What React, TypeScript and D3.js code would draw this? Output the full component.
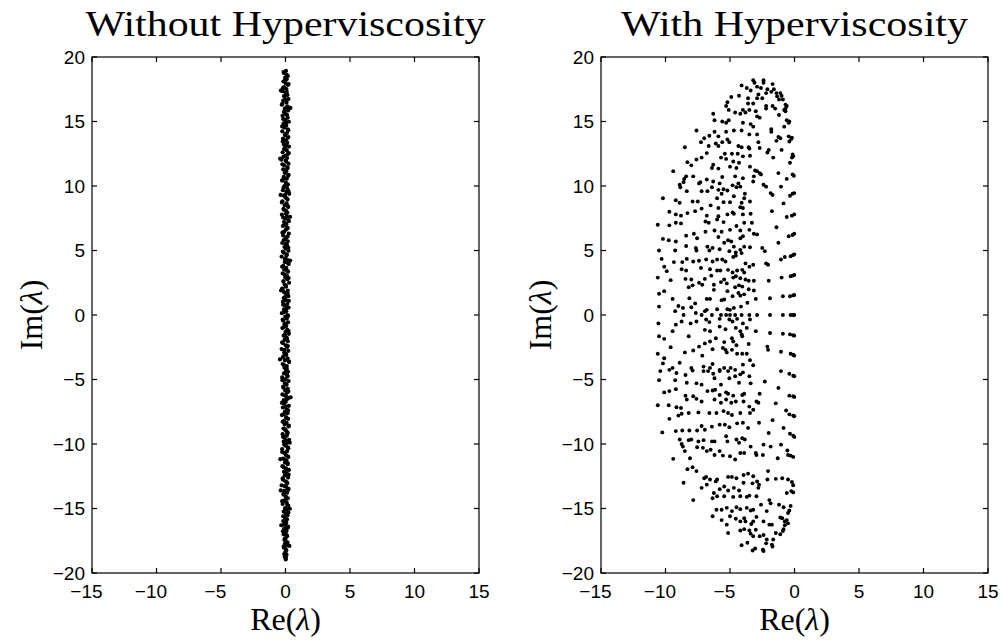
import React from "react";
import * as d3 from "d3";

const xTicks = [-15, -10, -5, 0, 5, 10, 15];
const yTicks = [-20, -15, -10, -5, 0, 5, 10, 15, 20];
const panelTitles = ["Without Hyperviscosity", "With Hyperviscosity"];

// Eigenvalues without hyperviscosity: [Re, Im]
const withoutHV: [number, number][] = [
  [0.04,18.92],[-0.1,18.75],[0.12,18.6],[-0.03,18.41],[0.09,18.28],[-0.16,18.1],[0.02,17.97],[0.19,17.83],[-0.11,17.66],[0.07,17.52],[-0.21,17.35],[0.01,17.22],[0.15,17.05],[-0.06,16.91],[0.23,16.74],[-0.18,16.62],[0.08,16.47],[-0.29,16.3],[0.13,16.18],[-0.05,16.02],[0.21,15.86],[-0.12,15.73],[0.03,15.57],[-0.23,15.44],[0.17,15.29],[-0.01,15.12],[0.26,14.98],[-0.15,14.85],[0.06,14.69],[-0.09,14.53],[0.18,14.4],[-0.25,14.24],[0.11,14.11],[-0.04,13.95],[0.22,13.8],[-0.19,13.68],[0.02,13.51],[0.14,13.37],[-0.13,13.22],[0.27,13.06],[-0.07,12.93],[0.09,12.78],[-0.22,12.61],[0.18,12.49],[-0.02,12.33],[0.12,12.18],[-0.31,12.04],[0.05,11.9],[0.23,11.73],[-0.1,11.6],[0.16,11.44],[-0.18,11.3],[0.06,11.15],[-0.05,11.01],[0.24,10.86],[-0.14,10.7],[0.1,10.57],[-0.27,10.42],[0.02,10.27],[0.19,10.12],[-0.08,9.99],[0.13,9.83],[-0.2,9.68],[0.07,9.55],[0.29,9.39],[-0.12,9.25],[0.0,9.1],[0.16,8.95],[-0.24,8.81],[0.08,8.66],[-0.06,8.5],[0.21,8.37],[-0.16,8.22],[0.04,8.07],[0.14,7.93],[-0.28,7.78],[0.1,7.62],[-0.03,7.49],[0.22,7.33],[-0.12,7.2],[0.06,7.04],[-0.2,6.9],[0.17,6.75],[0.02,6.6],[-0.1,6.46],[0.26,6.31],[-0.18,6.17],[0.08,6.02],[-0.02,5.88],[0.18,5.71],[-0.25,5.58],[0.12,5.43],[-0.08,5.27],[0.04,5.14],[0.23,4.98],[-0.14,4.84],[0.1,4.7],[-0.3,4.53],[0.0,4.4],[0.16,4.25],[-0.06,4.1],[0.25,3.96],[-0.18,3.81],[0.06,3.66],[-0.1,3.52],[0.2,3.37],[-0.22,3.22],[0.1,3.08],[-0.02,2.93],[0.14,2.78],[-0.16,2.63],[0.28,2.5],[-0.06,2.34],[0.04,2.19],[-0.26,2.05],[0.18,1.9],[-0.1,1.76],[0.08,1.6],[0.22,1.46],[-0.14,1.31],[0.02,1.17],[-0.2,1.02],[0.14,0.87],[-0.04,0.73],[0.24,0.58],[-0.12,0.43],[0.06,0.29],[-0.28,0.14],[0.16,0.0],
  [-0.02,-0.13],[0.1,-0.28],[-0.18,-0.44],[0.2,-0.57],[-0.08,-0.72],[0.04,-0.88],[-0.24,-1.01],[0.14,-1.16],[0.0,-1.3],[0.26,-1.46],[-0.14,-1.6],[0.08,-1.75],[-0.06,-1.91],[0.18,-2.04],[-0.2,-2.19],[0.02,-2.35],[0.12,-2.48],[-0.3,-2.64],[0.22,-2.78],[-0.1,-2.92],[0.06,-3.08],[-0.16,-3.21],[0.16,-3.36],[-0.04,-3.52],[0.28,-3.65],[-0.22,-3.8],[0.1,-3.96],[-0.08,-4.09],[0.04,-4.24],[0.2,-4.4],[-0.12,-4.53],[0.14,-4.68],[-0.26,-4.84],[0.0,-4.97],[0.24,-5.12],[-0.06,-5.28],[0.08,-5.41],[-0.18,-5.56],[0.18,-5.72],[-0.02,-5.85],[0.12,-6.0],[-0.24,-6.16],[0.06,-6.29],[0.22,-6.44],[-0.14,-6.6],[0.02,-6.73],[-0.1,-6.88],[0.26,-7.04],[-0.2,-7.17],[0.1,-7.32],[-0.04,-7.48],[0.16,-7.61],[-0.28,-7.76],[0.04,-7.92],[0.2,-8.05],[-0.12,-8.2],[0.08,-8.36],[-0.06,-8.49],[0.24,-8.64],[-0.16,-8.8],[0.0,-8.93],[0.14,-9.08],[-0.22,-9.24],[0.1,-9.37],[-0.08,-9.52],[0.28,-9.68],[-0.14,-9.81],[0.06,-9.96],[-0.02,-10.12],[0.18,-10.25],[-0.26,-10.4],[0.12,-10.56],[-0.1,-10.69],[0.02,-10.84],[0.22,-11.0],[-0.18,-11.13],[0.08,-11.28],[-0.04,-11.44],[0.16,-11.57],[-0.24,-11.72],[0.04,-11.88],[0.26,-12.01],[-0.12,-12.16],[0.1,-12.32],[-0.06,-12.45],[0.2,-12.6],[-0.2,-12.76],[0.0,-12.89],[0.14,-13.04],[-0.3,-13.2],[0.06,-13.33],[0.24,-13.48],[-0.1,-13.64],[0.12,-13.77],[-0.16,-13.92],[0.02,-14.08],[0.18,-14.21],[-0.08,-14.36],[0.08,-14.52],[-0.22,-14.65],[0.22,-14.8],[-0.02,-14.96],[0.1,-15.09],[-0.14,-15.24],[0.04,-15.4],[0.16,-15.53],[-0.06,-15.68],[0.12,-15.84],[-0.18,-15.97],[0.06,-16.12],[-0.04,-16.28],[0.2,-16.41],[-0.1,-16.56],[0.08,-16.72],[0.0,-16.85],[-0.14,-17.0],[0.12,-17.16],[0.02,-17.29],[-0.08,-17.44],[0.1,-17.6],[-0.04,-17.73],[0.06,-17.88],[-0.12,-18.04],[0.04,-18.2],[-0.02,-18.4],[0.08,-18.58],[-0.06,-18.75],[0.02,-18.95],
  [0.38,16.05],[-0.41,12.12],[-0.38,9.31],[0.36,4.22],[-0.43,-3.44],[0.4,-6.38],[-0.4,-11.18],[0.34,-15.02],[-0.36,17.4],[0.33,-9.9],[-0.35,1.9],[0.35,7.6],[-0.37,-13.6],[0.3,-17.9],[-0.33,-16.3],
  [-0.15,18.83],[0.18,18.52],[-0.05,18.19],[0.24,17.9],[-0.2,17.58],[0.1,17.29],[-0.12,16.97],[0.02,16.68],[-0.24,16.38],[0.2,16.1],[-0.08,15.8],[0.12,15.5],[-0.18,15.2],[0.06,14.92],[-0.26,14.62],[0.22,14.33],[-0.02,14.02],[0.16,13.73],[-0.22,13.44],[0.08,13.14],[-0.1,12.85],[0.26,12.55],[-0.16,12.26],[0.02,11.97],[-0.24,11.68],[0.14,11.37],[-0.06,11.08],[0.2,10.79],[-0.2,10.49],[0.06,10.2],[-0.14,9.9],[0.24,9.61],[-0.02,9.32],[0.12,9.03],[-0.28,8.73],[0.18,8.44],[-0.1,8.14],[0.04,7.85],[-0.18,7.56],[0.26,7.27],[-0.06,6.97],[0.1,6.68],[-0.24,6.38],[0.16,6.09],[-0.14,5.8],[0.02,5.5],[0.22,5.21],[-0.2,4.92],[0.08,4.62],[-0.04,4.33],[0.18,4.03],[-0.26,3.74],[0.12,3.45],[-0.08,3.16],[0.24,2.86],[-0.16,2.57],[0.04,2.27],[-0.22,1.98],[0.16,1.68],[-0.04,1.39],[0.26,1.1],[-0.18,0.8],[0.08,0.51],[-0.1,0.22],[0.2,-0.07],[-0.22,-0.36],[0.04,-0.66],[-0.14,-0.95],[0.24,-1.24],[-0.04,-1.54],[0.12,-1.83],[-0.26,-2.12],[0.18,-2.41],[-0.08,-2.71],[0.02,-3.0],[-0.2,-3.29],[0.26,-3.59],[-0.12,-3.88],[0.1,-4.17],[-0.02,-4.47],[0.16,-4.76],[-0.24,-5.05],[0.06,-5.35],[-0.16,-5.64],[0.22,-5.93],[-0.06,-6.23],[0.12,-6.52],[-0.28,-6.81],[0.02,-7.1],[0.2,-7.4],[-0.14,-7.69],[0.08,-7.98],[-0.22,-8.28],[0.26,-8.57],[-0.02,-8.86],[0.16,-9.16],[-0.18,-9.45],[0.04,-9.74],[-0.1,-10.03],[0.22,-10.33],[-0.26,-10.62],[0.1,-10.91],[-0.06,-11.21],[0.18,-11.5],[-0.16,-11.79],[0.02,-12.09],[0.24,-12.38],[-0.22,-12.67],[0.08,-12.96],[-0.08,-13.26],[0.2,-13.55],[-0.14,-13.84],[0.06,-14.14],[-0.26,-14.43],[0.14,-14.72],[-0.04,-15.02],[0.22,-15.31],[-0.18,-15.6],[0.04,-15.9],[-0.1,-16.19],[0.18,-16.48],[-0.2,-16.77],[0.1,-17.07],[-0.06,-17.36],[0.16,-17.65],[-0.14,-17.94],[0.06,-18.24],[-0.1,-18.53],[0.04,-18.82]
];

// Eigenvalues with hyperviscosity: [Re, Im]
const withHV: [number, number][] = [
  [-3.2,18.2],[-2.4,18.2],[-3.1,18.0],[-2.4,18.0],[-4.1,17.8],[-1.7,17.9],[-3.7,17.6],[-2.9,17.7],[-2.6,17.6],[-1.6,17.5],[-2.1,17.5],[-3.4,17.4],[-1.8,17.3],[-1.4,17.2],[-1.1,17.2],[-2.2,17.2],[-2.8,17.1],[-1.35,16.95],[-1.0,17.0],[-4.9,16.9],[-4.3,17.0],[-3.6,16.8],[-2.9,16.8],[-2.5,16.8],[-1.2,16.7],[-0.9,16.7],[-5.2,16.5],[-3.6,16.4],[-3.2,16.4],[-0.7,16.3],[-0.6,16.2],[-5.3,16.2],[-5.1,15.9],[-2.2,16.2],[-1.7,16.2],[-2.2,16.0],[-1.5,16.0],[-0.8,15.9],[-0.7,16.0],
  [-4.0,15.9],[-3.5,15.9],[-0.7,15.8],[-6.3,15.6],[-4.6,15.7],[-4.2,15.6],[-3.8,15.7],[-3.0,15.8],[-1.2,15.5],[-6.2,15.1],[-5.6,15.0],[-5.3,14.9],[-5.1,15.1],[-4.0,14.9],[-3.4,14.8],[-2.9,15.4],[-2.7,15.3],[-0.6,15.1],[-0.4,15.0],[-0.45,14.9],[-3.2,14.6],[-1.8,14.4],[-1.8,14.2],[-0.8,14.6],[-7.6,14.3],[-6.2,14.2],[-5.3,14.2],[-4.7,14.3],[-4.1,14.3],[-3.5,14.0],[-2.9,14.0],[-0.45,13.85],[-0.25,13.65],[-0.2,13.75],
  [-6.6,13.9],[-7.0,13.7],[-5.9,13.85],[-5.2,13.6],[-1.25,13.8],[-1.1,13.7],[-7.25,13.4],[-6.1,13.3],[-5.6,13.4],[-5.05,13.4],[-4.35,13.1],[-2.8,13.4],[-1.4,13.5],[-0.4,13.45],[-6.65,13.1],[-5.9,13.1],[-4.1,13.0],[-3.55,13.0],[-3.5,12.9],[-2.7,12.95],[-1.0,12.8],[-8.5,13.0],[-6.8,12.55],[-5.4,12.5],[-4.85,12.5],[-4.4,12.5],[-4.0,12.3],[-3.45,12.35],[-2.0,12.8],[-2.1,12.6],[-0.15,12.45],[-0.1,12.3],[-0.2,12.2],
  [-8.3,11.85],[-7.6,12.05],[-7.2,12.2],[-5.7,12.2],[-5.3,12.1],[-4.75,11.9],[-4.3,11.8],[-1.65,12.2],[-0.35,11.8],[-8.0,11.6],[-6.3,11.65],[-5.0,11.5],[-4.5,11.4],[-3.45,11.5],[-3.05,11.2],[-2.9,11.15],[-9.4,11.15],[-8.4,10.75],[-7.85,10.75],[-6.4,11.4],[-5.9,11.35],[-2.7,11.0],[-2.6,10.9],[-1.25,11.0],[-0.15,10.9],[-0.05,10.8],[-0.6,10.55],[-8.55,10.55],[-7.3,10.3],[-6.8,10.5],[-6.3,10.35],[-5.6,10.7],[-4.6,10.75],[-4.0,10.6],[-3.15,10.75],
  [-8.6,10.3],[-8.9,10.1],[-7.4,10.2],[-6.4,9.9],[-5.8,10.2],[-4.35,10.2],[-4.2,9.95],[-3.2,10.35],[-2.4,10.1],[-2.2,9.95],[-1.05,9.95],[-8.85,9.9],[-8.35,9.6],[-7.2,9.6],[-6.75,9.6],[-5.9,9.7],[-5.5,9.75],[-4.8,10.05],[-4.5,9.9],[-3.85,9.4],[-5.2,9.65],[-1.85,9.45],[-1.7,9.3],[-0.35,9.25],[-0.15,9.4],[-0.02,9.45],
  [-10.2,9.05],[-9.2,8.9],[-8.9,8.7],[-7.9,8.8],[-7.5,8.8],[-6.5,8.5],[-6.0,9.05],[-5.65,9.4],[-5.5,8.75],[-5.0,8.75],[-4.7,9.2],[-4.1,8.7],[-3.9,9.05],[-3.45,8.8],[-0.85,8.65],[-9.7,8.0],[-7.7,8.05],[-7.2,8.25],[-5.9,8.3],[-4.8,7.95],[-4.2,8.35],[-4.0,8.3],[-1.75,8.05],
  [-9.2,7.8],[-8.8,7.7],[-8.3,7.9],[-6.8,7.7],[-5.9,7.65],[-5.2,7.8],[-4.7,7.85],[-4.0,7.8],[-3.4,7.85],[-0.6,7.6],[-0.2,7.7],[-0.02,7.8],
  [-10.6,7.0],[-9.7,6.95],[-9.2,7.15],[-8.8,7.1],[-6.9,7.25],[-6.65,7.15],[-6.0,7.4],[-5.5,7.2],[-4.5,6.9],[-3.9,7.15],[-3.3,7.15],[-1.4,6.8],
  [-8.4,6.15],[-7.8,6.3],[-6.9,6.45],[-6.2,6.55],[-5.65,6.45],[-5.0,6.6],[-4.2,6.55],[-3.5,6.6],[-3.15,6.3],[-2.9,6.25],[-0.45,6.1],[-0.15,6.2],[-0.02,6.3],[-10.2,5.9],[-9.75,5.8],[-9.2,5.7],[-7.55,5.95],[-5.9,6.05],[-5.15,5.8],[-4.9,5.7],[-4.2,5.95],[-4.0,6.1],[-2.5,5.2],[-2.3,4.95],[-1.25,5.6],
  [-8.4,5.35],[-7.65,5.2],[-6.75,5.3],[-6.35,5.2],[-5.8,5.1],[-5.45,5.6],[-4.7,5.3],[-4.2,5.05],[-3.9,5.3],[-3.45,5.25],[-10.5,5.0],[-9.25,5.0],[-7.6,5.0],[-6.6,5.0],[-5.05,4.95],[-4.55,4.85],[-4.1,4.8],
  [-10.3,4.35],[-9.35,4.1],[-8.7,4.1],[-8.35,4.35],[-7.85,4.15],[-7.4,4.2],[-6.85,4.3],[-6.35,4.15],[-6.0,4.3],[-5.6,4.3],[-5.35,4.15],[-4.75,4.5],[-4.55,4.6],[-3.8,4.0],[-3.2,3.9],[-2.05,3.9],[-1.05,4.3],[-0.75,4.5],[-0.3,4.55],[-0.1,4.65],[-0.02,4.7],
  [-10.1,3.75],[-9.9,3.4],[-8.75,3.55],[-8.4,3.45],[-7.25,3.65],[-6.55,3.55],[-6.0,3.45],[-5.75,3.45],[-5.15,3.5],[-4.8,3.3],[-4.45,3.45],[-4.05,3.5],[-3.9,3.3],[-3.5,3.75],[-2.2,4.0],[-10.6,2.9],[-9.6,2.7],[-8.45,2.8],[-8.0,2.75],[-6.95,2.8],[-6.45,3.05],[-5.45,2.75],[-4.75,2.9],[-4.55,3.0],[-4.2,2.85],[-3.8,2.75],[-3.55,2.65],[-3.15,2.65],[-2.0,2.65],[-1.0,2.9],[-0.3,3.0],[-0.15,3.05],[-0.02,3.1],
  [-8.2,2.15],[-7.9,2.3],[-7.4,2.5],[-7.15,2.35],[-6.25,2.35],[-5.7,2.55],[-5.25,2.45],[-4.6,2.15],[-4.3,2.3],[-4.05,2.2],[-3.55,2.0],[-3.15,1.9],[-10.5,1.65],[-10.1,1.85],[-6.25,1.95],[-5.2,1.85],[-4.35,1.7],
  [-9.45,1.25],[-9.0,0.7],[-8.15,1.3],[-7.7,0.9],[-6.8,1.25],[-6.55,1.25],[-5.65,1.15],[-5.45,1.2],[-4.8,1.45],[-4.2,1.5],[-3.9,1.6],[-3.0,1.25],[-1.9,1.3],[-0.9,1.45],[-0.35,1.45],[-0.1,1.52],[-0.02,1.55],[-8.65,0.55],
  [-10.5,0.65],[-8.0,0.6],[-6.8,0.4],[-6.0,0.45],[-5.2,0.45],[-4.7,0.55],[-4.15,0.65],[-3.65,0.95],
  [-8.6,0.0],[-7.2,0.0],[-6.4,0.0],[-5.7,0.0],[-5.3,0.0],[-5.0,0.0],[-4.6,0.0],[-4.1,0.0],[-3.5,0.0],[-2.9,0.0],[-1.9,0.0],[-0.9,0.0],[-0.3,0.0],[-0.1,0.0],[-0.02,0.0],[-9.25,0.3],[-7.65,0.15],[-6.95,0.3],[-5.0,0.4],
  [-9.2,-0.75],[-8.75,-0.5],[-8.05,-0.65],[-7.6,-0.5],[-6.85,-0.35],[-6.6,-0.55],[-5.8,-0.3],[-5.05,-0.35],[-4.8,-0.5],[-4.45,-0.3],[-4.0,-0.65],[-3.45,-0.35],[-10.55,-0.65],
  [-9.45,-1.25],[-6.95,-1.15],[-6.55,-1.25],[-5.8,-0.9],[-5.35,-1.1],[-4.55,-1.0],[-4.2,-1.25],[-3.7,-1.0],[-3.0,-1.25],[-1.9,-1.4],[-0.9,-1.45],[-0.35,-1.5],[-0.1,-1.57],[-0.02,-1.6],
  [-10.5,-1.65],[-10.1,-1.85],[-8.2,-1.65],[-7.4,-2.45],[-6.95,-2.2],[-6.55,-2.05],[-6.1,-1.8],[-5.45,-2.1],[-4.85,-1.8],[-4.75,-2.05],[-4.5,-2.35],[-4.1,-1.5],[-4.05,-1.65],[-3.55,-2.25],[-2.1,-2.45],[-2.05,-2.7],
  [-10.6,-3.0],[-10.1,-3.35],[-9.6,-2.5],[-8.5,-2.9],[-7.85,-2.75],[-7.15,-3.15],[-6.35,-2.65],[-5.55,-2.55],[-5.35,-2.7],[-5.25,-2.9],[-4.85,-2.7],[-4.45,-3.0],[-4.05,-3.0],[-3.7,-3.0],[-3.2,-3.9],[-1.05,-2.85],[-0.3,-3.0],[-0.1,-3.08],[-0.02,-3.15],
  [-10.2,-3.75],[-9.45,-4.1],[-8.9,-3.7],[-8.0,-4.1],[-7.05,-4.0],[-6.55,-4.1],[-6.35,-3.8],[-5.8,-4.25],[-5.45,-4.1],[-4.95,-4.1],[-4.6,-4.25],[-4.0,-3.85],[-3.45,-3.5],
  [-10.4,-4.35],[-9.7,-4.25],[-9.15,-4.5],[-8.45,-4.65],[-7.9,-4.3],[-7.05,-4.35],[-6.7,-4.35],[-6.3,-4.55],[-5.8,-4.35],[-5.15,-4.35],[-4.6,-4.75],[-4.2,-4.6],[-4.0,-4.45],[-3.5,-4.75],[-2.3,-5.15],[-1.05,-4.35],[-0.4,-4.55],[-0.1,-4.7],[-0.02,-4.75],
  [-10.5,-5.05],[-9.25,-5.05],[-8.35,-5.25],[-7.6,-5.3],[-7.2,-5.4],[-6.2,-4.9],[-5.7,-5.4],[-5.05,-4.9],[-4.3,-5.25],[-3.4,-5.3],
  [-10.1,-6.0],[-9.7,-5.9],[-9.2,-5.75],[-8.45,-6.25],[-7.85,-6.3],[-6.75,-5.9],[-6.35,-5.85],[-6.15,-5.8],[-5.8,-6.2],[-5.3,-6.0],[-5.15,-6.1],[-4.75,-6.25],[-4.05,-6.2],[-3.9,-6.1],[-2.7,-6.1],[-1.25,-5.65],[-0.4,-6.25],[-0.1,-6.3],[-0.02,-6.35],
  [-10.6,-7.0],[-9.75,-7.0],[-9.15,-7.15],[-8.8,-7.2],[-8.35,-6.55],[-7.6,-6.5],[-7.2,-6.7],[-6.2,-6.55],[-5.7,-6.8],[-5.3,-6.55],[-4.9,-6.8],[-4.55,-6.7],[-3.95,-6.7],[-3.5,-7.1],[-2.95,-6.7],[-2.8,-6.8],[-1.45,-6.85],
  [-9.7,-8.05],[-9.0,-7.8],[-8.75,-7.65],[-8.2,-7.6],[-7.45,-7.55],[-6.6,-7.6],[-6.05,-7.6],[-5.5,-7.45],[-5.15,-7.6],[-4.85,-7.75],[-4.2,-7.6],[-3.45,-7.6],[-3.2,-7.35],[-1.7,-8.15],[-0.65,-7.4],[-0.4,-7.7],[-0.1,-7.8],[-0.02,-7.85],
  [-10.25,-9.1],[-9.2,-9.0],[-8.7,-8.95],[-8.15,-8.95],[-7.55,-8.95],[-7.2,-8.6],[-6.95,-8.9],[-6.4,-8.65],[-5.8,-8.5],[-5.4,-8.5],[-5.05,-8.7],[-4.45,-8.4],[-4.0,-8.35],[-3.6,-8.75],[-2.75,-8.35],[-2.0,-9.15],[-0.85,-8.75],[-0.35,-9.2],[-0.1,-9.35],[-0.02,-9.45],
  [-8.9,-9.65],[-8.2,-9.7],[-8.0,-9.65],[-7.45,-9.8],[-7.05,-9.7],[-6.4,-9.8],[-6.2,-9.8],[-5.3,-9.4],[-5.2,-9.8],[-4.5,-9.65],[-4.3,-9.9],[-4.05,-9.55],[-3.85,-9.65],[-3.4,-10.2],[-2.4,-10.05],[-1.85,-10.2],[-1.05,-10.05],[-0.55,-10.5],
  [-9.4,-11.15],[-8.75,-10.0],[-8.65,-10.2],[-8.5,-10.55],[-8.1,-11.1],[-7.55,-10.25],[-7.1,-10.3],[-6.8,-10.55],[-6.5,-10.45],[-6.2,-10.85],[-5.8,-10.55],[-5.55,-10.9],[-5.0,-10.95],[-4.6,-11.2],[-4.2,-10.7],[-3.9,-10.7],[-3.0,-10.7],[-2.95,-10.85],[-2.45,-10.85],[-1.3,-11.1],[-0.5,-10.85],[-0.3,-10.9],[-0.1,-11.0],
  [-8.3,-11.95],[-7.9,-11.8],[-7.6,-12.1],[-7.0,-12.65],[-6.85,-12.55],[-6.55,-12.75],[-6.1,-12.9],[-6.0,-12.75],[-5.15,-12.55],[-4.85,-12.55],[-4.5,-12.65],[-3.95,-12.4],[-3.6,-12.3],[-3.2,-12.5],[-2.9,-12.9],[-2.75,-13.15],[-2.1,-12.75],[-0.95,-12.65],[-0.5,-12.75],[-0.2,-12.95],[-0.1,-13.2],[-8.6,-13.0],
  [-7.2,-13.4],[-6.8,-13.15],[-6.25,-13.8],[-5.8,-13.5],[-5.45,-13.3],[-5.15,-13.6],[-4.7,-13.4],[-4.3,-13.6],[-3.95,-13.0],[-3.25,-13.05],[-2.8,-13.4],[-2.05,-12.1],[-1.45,-12.7],[-0.6,-13.8],[-0.25,-13.65],[-0.1,-13.75],
  [-6.0,-14.05],[-5.45,-14.05],[-4.75,-14.1],[-4.2,-14.05],[-3.7,-14.1],[-3.5,-14.0],[-2.95,-14.05],[-1.95,-14.35],[-1.85,-14.6],[-7.85,-14.35],[-6.35,-14.2],
  [-6.05,-15.1],[-5.65,-15.1],[-5.25,-14.95],[-4.85,-15.2],[-4.5,-14.9],[-4.2,-15.05],[-3.7,-14.95],[-3.4,-15.15],[-3.2,-15.1],[-2.6,-14.7],[-2.15,-15.2],[-1.2,-14.7],[-0.85,-14.9],[-0.5,-15.35],[-0.4,-15.15],[-0.3,-14.8],
  [-6.35,-15.6],[-5.65,-15.9],[-5.25,-16.25],[-5.0,-15.6],[-4.55,-15.8],[-4.2,-16.0],[-3.9,-15.75],[-3.8,-16.0],[-3.35,-16.2],[-3.2,-16.0],[-2.95,-15.65],[-2.4,-16.0],[-1.95,-16.25],[-1.75,-16.25],[-1.1,-15.7],[-0.95,-15.75],[-0.75,-16.0],[-0.6,-15.9],[-0.5,-16.15],[-0.75,-16.3],
  [-5.15,-16.9],[-4.2,-16.7],[-3.9,-16.6],[-3.5,-16.7],[-3.4,-16.95],[-3.2,-17.15],[-3.0,-16.65],[-2.7,-17.15],[-2.4,-17.05],[-2.2,-17.7],[-2.15,-17.4],[-1.75,-17.8],[-1.65,-17.4],[-1.45,-16.9],[-1.1,-17.0],[-0.9,-16.75],[-0.85,-16.6],[-4.1,-17.85],[-3.65,-17.65],[-3.25,-18.25],[-3.05,-18.1],[-2.45,-18.2],[-2.4,-18.3],[-1.7,-17.95]
];

const W = 1003;
const H = 640;
const PLOT_W = 387;
const TOP = 57;
const BOTTOM = 573;
const PANEL_X = [92, 601];
const TITLE_LEN = [400, 347];
const DOT_R = [2.1, 1.95];
const TICK_FONT = 19;
const SANS = "'Liberation Sans', Arial, Helvetica, sans-serif";
const SERIF = "'Liberation Serif', 'Times New Roman', serif";

function Panel({ x0, title, titleLen, points, r }: { x0: number; title: string; titleLen: number; points: [number, number][]; r: number }) {
  const x = d3.scaleLinear().domain([-15, 15]).range([x0, x0 + PLOT_W]);
  const y = d3.scaleLinear().domain([-20, 20]).range([BOTTOM, TOP]);
  const cx = x0 + PLOT_W / 2;
  const tl = 5;
  const sw = 1.2;
  return (
    <g>
      {points.map(([re, im], i) => (
        <circle key={i} cx={x(re)} cy={y(im)} r={r} fill="#000" />
      ))}
      <rect x={x0} y={TOP} width={PLOT_W} height={BOTTOM - TOP} fill="none" stroke="#000" strokeWidth={sw} />
      {xTicks.map((t) => {
        const digits = String(Math.abs(t));
        const dw = digits.length * 0.556 * TICK_FONT;
        return (
          <g key={"x" + t}>
            <line x1={x(t)} x2={x(t)} y1={BOTTOM} y2={BOTTOM - tl} stroke="#000" strokeWidth={sw} />
            <line x1={x(t)} x2={x(t)} y1={TOP} y2={TOP + tl} stroke="#000" strokeWidth={sw} />
            <text x={x(t)} y={598} textAnchor="middle" fontFamily={SANS} fontSize={TICK_FONT} fill="#000">{digits}</text>
            {t < 0 && (
              <text x={x(t) - dw / 2} y={598} textAnchor="end" fontFamily={SANS} fontSize={TICK_FONT} fill="#000">{"\u2212"}</text>
            )}
          </g>
        );
      })}
      {yTicks.map((t) => (
        <g key={"y" + t}>
          <line x1={x0} x2={x0 + tl} y1={y(t)} y2={y(t)} stroke="#000" strokeWidth={sw} />
          <line x1={x0 + PLOT_W} x2={x0 + PLOT_W - tl} y1={y(t)} y2={y(t)} stroke="#000" strokeWidth={sw} />
          <text x={x0 - 7} y={y(t)} dy="0.35em" textAnchor="end" fontFamily={SANS} fontSize={TICK_FONT} fill="#000">
            {t < 0 ? "\u2212" + Math.abs(t) : String(t)}
          </text>
        </g>
      ))}
      <text x={cx} y={36} textAnchor="middle" fontFamily={SERIF} fontSize={36} textLength={titleLen} lengthAdjust="spacingAndGlyphs" fill="#000">
        {title}
      </text>
      <text x={cx} y={630} textAnchor="middle" fontFamily={SERIF} fontSize={32} fill="#000">
        Re(<tspan fontStyle="italic">λ</tspan>)
      </text>
      <text transform={`translate(${x0 - 50},${(TOP + BOTTOM) / 2}) rotate(-90)`} textAnchor="middle" fontFamily={SERIF} fontSize={32} fill="#000">
        Im(<tspan fontStyle="italic">λ</tspan>)
      </text>
    </g>
  );
}

export default function App() {
  return (
    <div style={{ position: "absolute", left: 0, top: 0, width: W, height: H, background: "#fff" }}>
      <svg width={W} height={H} viewBox={`0 0 ${W} ${H}`} style={{ display: "block" }}>
        <rect x={0} y={0} width={W} height={H} fill="#fff" />
        <Panel x0={PANEL_X[0]} title={panelTitles[0]} titleLen={TITLE_LEN[0]} points={withoutHV} r={DOT_R[0]} />
        <Panel x0={PANEL_X[1]} title={panelTitles[1]} titleLen={TITLE_LEN[1]} points={withHV} r={DOT_R[1]} />
      </svg>
    </div>
  );
}
